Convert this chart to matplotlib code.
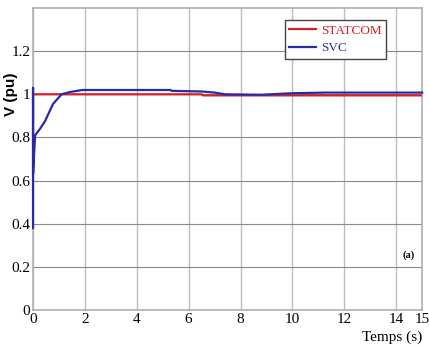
import matplotlib
matplotlib.use('Agg')
import matplotlib.pyplot as plt

# time (s) and voltage (pu)
t_statcom = [0.0, 0.05, 6.5, 6.55, 15.0]
v_statcom = [1.0, 1.0, 1.0, 0.995, 0.995]

t_svc = [0.0, 0.0, 0.0, 0.08, 0.27, 0.46, 0.77, 1.1, 1.4, 1.9,
         5.3, 5.35, 6.5, 7.0, 7.4, 8.8, 10.0, 11.3, 15.0]
v_svc = [0.38, 1.03, 0.63, 0.81, 0.84, 0.875, 0.955, 1.0, 1.01, 1.02,
         1.02, 1.016, 1.013, 1.008, 1.0, 0.998, 1.005, 1.008, 1.008]

x_ticks = [0, 2, 4, 6, 8, 10, 12, 14, 15]
y_ticks = [0, 0.2, 0.4, 0.6, 0.8, 1, 1.2]
y_tick_labels = ['0', '0.2', '0.4', '0.6', '0.8', '1', '1.2']

fig = plt.figure(figsize=(4.29, 3.48), dpi=100)
ax = fig.add_axes([0.077, 0.109, 0.907, 0.868])

ax.plot(t_statcom, v_statcom, color='#d42020', lw=1.6, label='STATCOM', zorder=3)
ax.plot(t_svc, v_svc, color='#2a2aa8', lw=1.6, label='SVC', zorder=3, clip_on=False)

ax.set_xlim(0, 15)
ax.set_ylim(0, 1.4)
ax.set_xticks(x_ticks)
ax.set_yticks(y_ticks)
ax.set_yticklabels(y_tick_labels)
ax.tick_params(length=0, labelsize=11, pad=2)
for lab in ax.get_xticklabels() + ax.get_yticklabels():
    lab.set_family('Liberation Serif')

ax.xaxis.grid(True, color='#bdbdbd', lw=1.0)
ax.yaxis.grid(True, color='#8a8a8a', lw=0.8)
ax.set_axisbelow(True)
for s in ax.spines.values():
    s.set_color('#b0b0b0')
    s.set_linewidth(1.2)

fig.text(0.025, 0.73, 'V (pu)', rotation=90, ha='center', va='center',
         fontsize=11, fontweight='bold', family='Liberation Sans')
fig.text(0.914, 0.032, 'Temps (s)', ha='center', va='center',
         fontsize=11, family='Liberation Serif')
fig.text(0.953, 0.267, '(a)', ha='center', va='center',
         fontsize=7.5, fontweight='bold', family='Liberation Serif')

leg = ax.legend(loc='upper right', bbox_to_anchor=(0.916, 0.962),
                bbox_transform=fig.transFigure, fancybox=False,
                edgecolor='#444444', framealpha=1, handlelength=2.0,
                handletextpad=0.4, borderpad=0.35, labelspacing=0.4,
                prop={'family': 'Liberation Serif', 'size': 9.5})
leg.get_frame().set_linewidth(1.0)
for txt, c in zip(leg.get_texts(), ['#d42020', '#2a2aa8']):
    txt.set_color(c)

fig.savefig('out.png', dpi=100)
